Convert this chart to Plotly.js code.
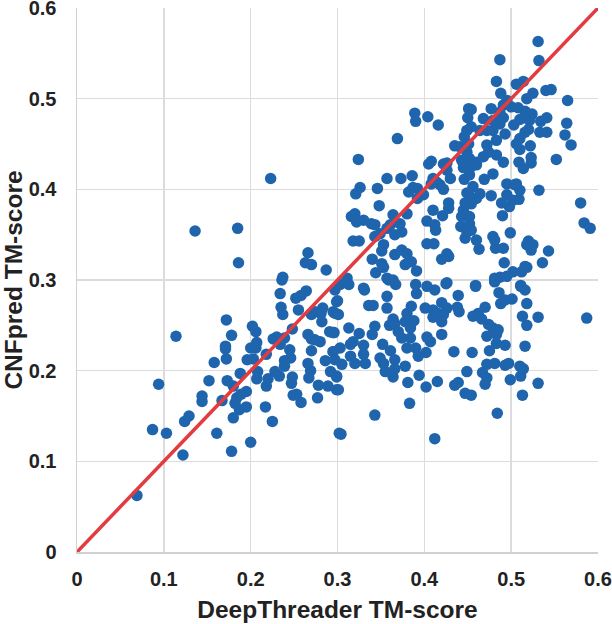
<!DOCTYPE html>
<html><head><meta charset="utf-8">
<script src="https://cdn.plot.ly/plotly-3.0.1.min.js"></script>
<style>html,body{margin:0;padding:0;background:#fff}</style></head>
<body><div id="chart" style="width:612px;height:624px"></div>
<script>
const lowerLeft = [[.069,.0624],[.122,.107],[.087,.135],[.103,.131],[.124,.144],[.129,.150],[.114,.238],[.094,.185],[.161,.131],[.178,.111],[.200,.121],[.225,.144],[.217,.160],[.180,.148],[.144,.166],[.144,.172],[.152,.189],[.158,.209],[.172,.256],[.178,.239],[.171,.227],[.171,.224],[.172,.213],[.173,.189],[.167,.167],[.180,.183],[.188,.197],[.184,.170],[.182,.164],[.187,.157],[.195,.160],[.195,.177],[.189,.174],[.196,.212],[.203,.213],[.202,.249],[.206,.243],[.207,.231],[.200,.225],[.206,.225],[.218,.218],[.208,.199],[.207,.191],[.220,.191],[.218,.183],[.228,.199],[.233,.194],[.226,.235],[.230,.237],[.239,.236],[.234,.229],[.248,.246],[.245,.223],[.246,.214],[.239,.211],[.239,.205],[.248,.193],[.247,.186],[.249,.173],[.253,.174],[.258,.165],[.277,.170],[.278,.184],[.289,.183],[.299,.179],[.267,.192],[.269,.200],[.266,.208],[.270,.222],[.266,.240],[.270,.235],[.280,.232],[.274,.234],[.291,.243],[.295,.242],[.286,.211],[.295,.221],[.297,.212],[.292,.199],[.299,.194],[.302,.131],[.236,.300],[.234,.285],[.235,.270],[.237,.262],[.252,.280],[.258,.283],[.264,.288],[.255,.267],[.270,.262],[.274,.265],[.283,.269],[.281,.263],[.282,.254],[.295,.265],[.298,.263],[.299,.276],[.297,.289],[.223,.412],[.136,.354],[.185,.357],[.186,.319],[.266,.330],[.263,.319],[.270,.317],[.287,.311],[.237,.303]];
const upperRight = [[.531,.563],[.532,.542],[.487,.543],[.483,.519],[.506,.516],[.514,.519],[.488,.506],[.525,.506],[.518,.500],[.540,.509],[.546,.510],[.565,.498],[.564,.473],[.562,.460],[.569,.449],[.552,.433],[.541,.479],[.534,.475],[.533,.463],[.541,.463],[.522,.448],[.523,.435],[.523,.429],[.509,.430],[.514,.423],[.506,.450],[.510,.444],[.510,.456],[.516,.463],[.520,.466],[.521,.476],[.524,.483],[.516,.486],[.508,.490],[.500,.491],[.495,.498],[.491,.493],[.487,.485],[.510,.477],[.503,.471],[.493,.461],[.483,.454],[.491,.479],[.487,.472],[.479,.476],[.477,.489],[.468,.478],[.454,.488],[.451,.489],[.450,.479],[.454,.469],[.449,.465],[.472,.465],[.479,.465],[.464,.465],[.446,.458],[.451,.450],[.435,.448],[.441,.447],[.472,.449],[.474,.441],[.468,.436],[.460,.430],[.483,.438],[.491,.430],[.449,.441],[.452,.434],[.443,.432],[.445,.424],[.454,.425],[.460,.427],[.446,.411],[.452,.416],[.469,.411],[.479,.417],[.430,.412],[.426,.421],[.422,.428],[.426,.429],[.405,.428],[.408,.431],[.389,.484],[.390,.475],[.404,.480],[.416,.471],[.369,.456],[.324,.433],[.357,.412],[.373,.412],[.386,.415],[.326,.402],[.321,.395],[.346,.401],[.382,.397],[.387,.402],[.392,.401],[.392,.390],[.399,.394],[.410,.412],[.414,.408],[.422,.400],[.418,.405],[.408,.406],[.348,.382],[.364,.372],[.380,.373],[.410,.377],[.428,.385],[.428,.379],[.421,.371],[.403,.365],[.412,.361],[.413,.355],[.495,.406],[.504,.405],[.510,.399],[.506,.406],[.532,.399],[.477,.393],[.449,.396],[.456,.403],[.464,.395],[.460,.390],[.454,.384],[.447,.385],[.451,.395],[.495,.394],[.489,.385],[.498,.381],[.509,.389],[.502,.388],[.490,.371],[.445,.377],[.443,.370],[.452,.370],[.442,.359],[.452,.362],[.454,.355],[.449,.353],[.447,.346],[.460,.344],[.463,.334],[.580,.385],[.584,.363],[.591,.357],[.499,.352],[.479,.348],[.481,.344],[.482,.335],[.491,.335],[.520,.343],[.518,.339],[.525,.339],[.523,.333],[.543,.332],[.536,.319],[.492,.319],[.320,.373],[.316,.370],[.322,.364],[.330,.366],[.339,.362],[.343,.361],[.349,.351],[.343,.348],[.361,.361],[.372,.362],[.357,.357],[.374,.353],[.366,.350],[.318,.343],[.325,.343],[.353,.339],[.351,.332],[.366,.328],[.374,.333],[.380,.329],[.340,.323],[.351,.318],[.353,.314],[.385,.320],[.378,.317],[.391,.310],[.344,.308],[.357,.302],[.364,.300],[.367,.295],[.403,.340],[.411,.340],[.426,.329],[.420,.323],[.428,.326],[.425,.296],[.390,.295],[.403,.293],[.412,.289],[.459,.293],[.516,.315],[.518,.314],[.512,.309],[.502,.309],[.495,.304],[.487,.303],[.481,.302],[.481,.298],[.511,.293],[.311,.302],[.303,.295],[.313,.295],[.330,.291]];
const lowerRight = [[.587,.258],[.531,.259],[.513,.260],[.518,.250],[.511,.294],[.516,.289],[.518,.274],[.486,.286],[.488,.274],[.493,.278],[.501,.279],[.459,.294],[.481,.299],[.439,.283],[.426,.297],[.391,.285],[.359,.300],[.331,.289],[.300,.277],[.357,.282],[.357,.269],[.336,.272],[.341,.272],[.296,.264],[.301,.262],[.401,.269],[.385,.271],[.380,.263],[.378,.254],[.388,.255],[.420,.275],[.426,.269],[.410,.267],[.416,.263],[.410,.259],[.422,.262],[.420,.254],[.438,.270],[.440,.265],[.470,.270],[.462,.263],[.456,.260],[.466,.257],[.474,.251],[.479,.247],[.485,.245],[.472,.238],[.483,.240],[.483,.230],[.493,.228],[.516,.227],[.475,.222],[.420,.240],[.364,.257],[.360,.250],[.370,.243],[.366,.252],[.384,.247],[.343,.249],[.340,.240],[.325,.241],[.313,.247],[.296,.242],[.318,.232],[.315,.229],[.330,.228],[.374,.236],[.384,.236],[.380,.225],[.403,.237],[.407,.232],[.352,.229],[.361,.222],[.390,.225],[.393,.216],[.402,.220],[.434,.221],[.455,.220],[.303,.225],[.295,.221],[.315,.216],[.320,.208],[.330,.218],[.332,.208],[.305,.207],[.349,.214],[.353,.208],[.355,.199],[.366,.212],[.378,.205],[.366,.202],[.364,.193],[.299,.193],[.301,.179],[.381,.187],[.394,.195],[.402,.182],[.415,.188],[.439,.187],[.435,.184],[.449,.199],[.447,.175],[.454,.173],[.472,.207],[.481,.208],[.467,.198],[.472,.192],[.470,.185],[.493,.206],[.497,.208],[.510,.205],[.514,.202],[.511,.194],[.499,.190],[.531,.186],[.513,.173],[.383,.164],[.343,.151],[.484,.153],[.304,.130],[.412,.125]];
const diagonal = [0, 0.6];
const xLabel = 'DeepThreader TM-score';
const yLabel = 'CNFpred TM-score';

const points = lowerLeft.concat(upperRight, lowerRight);
const axisFont = {family:'"Liberation Sans", Arial, sans-serif', size:20, color:'#222222'};
const titleFont = {family:'"Liberation Sans", Arial, sans-serif', size:24.5, color:'#222222'};
const boldAxis = {
  range:[0,0.6], dtick:0.1, tick0:0, showgrid:true, gridcolor:'#dcdcdc', gridwidth:1.5,
  zeroline:false, showline:true, linecolor:'#d0d0d0', linewidth:1.5,
  ticks:'outside', tickcolor:'rgba(0,0,0,0)', ticklabeloverflow:'allow',
  tickfont:axisFont, tickprefix:'<b>', ticksuffix:'</b>', automargin:false
};
Plotly.newPlot('chart',[
  {type:'scatter',mode:'markers',x:points.map(p=>p[0]),y:points.map(p=>p[1]),cliponaxis:false,
   marker:{color:'#1f65ae',size:11.5,line:{width:0}},hoverinfo:'x+y'},
  {type:'scatter',mode:'lines',x:diagonal,y:diagonal,line:{color:'#e23b40',width:3.5},hoverinfo:'skip'}
],{
  width:612,height:624,showlegend:false,paper_bgcolor:'#fff',plot_bgcolor:'#fff',
  margin:{l:77,r:14,t:8,b:72},
  xaxis:Object.assign({},boldAxis,{ticklen:8,title:{text:'<b>'+xLabel+'</b>',font:titleFont,standoff:12}}),
  yaxis:Object.assign({},boldAxis,{ticklen:15,title:{text:'<b>'+yLabel+'</b>',font:titleFont,standoff:11}})
},{displayModeBar:false,staticPlot:true});
</script></body></html>
